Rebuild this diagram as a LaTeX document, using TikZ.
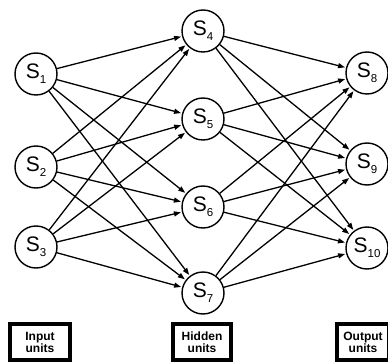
\documentclass[tikz,border=0pt]{standalone}
\usepackage{fontspec}
\setmainfont{Liberation Sans}
\usetikzlibrary{arrows.meta}
\newcommand{\unitlab}[1]{S\raisebox{-0.45ex}{\fontsize{11.5}{11.5}\selectfont #1}}
\begin{document}
\begin{tikzpicture}[x=1pt,y=-1pt,
  unit/.style={circle,draw,line width=1.4pt,minimum size=42pt,inner sep=0pt,font=\fontsize{21}{21}\selectfont},
  conn/.style={line width=1.3pt,-{Triangle[length=7pt,width=5pt]},shorten >=1pt},
  label/.style={draw,line width=4.5pt,inner sep=0pt,align=center,font=\bfseries\fontsize{12}{12}\selectfont}]
\useasboundingbox (0,0) rectangle (388,363);
\node[unit] (s1) at (36,74) {\unitlab{1}};
\node[unit] (s2) at (36,167) {\unitlab{2}};
\node[unit] (s3) at (36,247) {\unitlab{3}};
\node[unit] (s4) at (203,31) {\unitlab{4}};
\node[unit] (s5) at (203,119) {\unitlab{5}};
\node[unit] (s6) at (203,207) {\unitlab{6}};
\node[unit] (s7) at (203,293) {\unitlab{7}};
\node[unit] (s8) at (367,73) {\unitlab{8}};
\node[unit] (s9) at (367,164) {\unitlab{9}};
\node[unit] (s10) at (367,248) {\unitlab{10}};
\foreach \i in {s1,s2,s3}{
  \foreach \h in {s4,s5,s6,s7}{
    \draw[conn] (\i) -- (\h);
  }
}
\foreach \h in {s4,s5,s6,s7}{
  \foreach \o in {s8,s9,s10}{
    \draw[conn] (\h) -- (\o);
  }
}
\node[label,minimum width=60pt,minimum height=36pt] (in) at (40,342) {Input\\units};
\node[label,minimum width=58pt,minimum height=36pt] (hid) at (202,342) {Hidden\\units};
\node[label,minimum width=52pt,minimum height=36pt] (out) at (363,342) {Output\\units};
\end{tikzpicture}
\end{document}
